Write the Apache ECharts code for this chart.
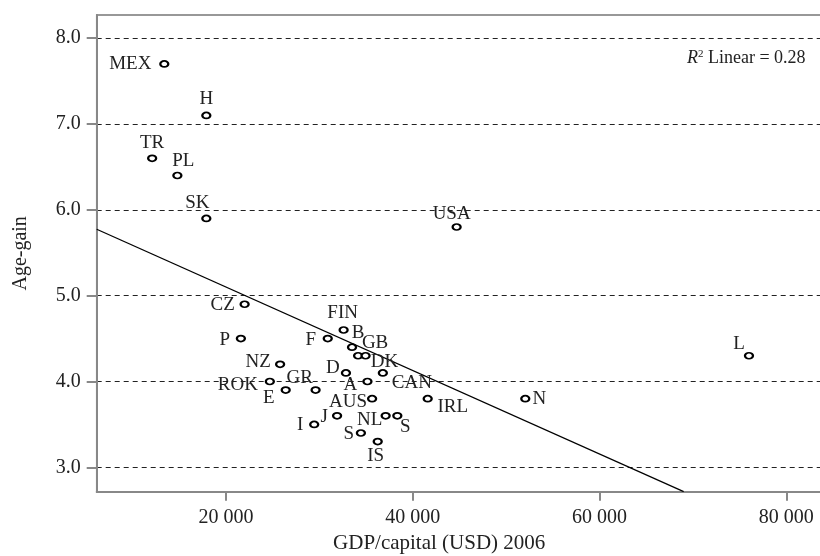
<!DOCTYPE html>
<html>
<head>
<meta charset="utf-8">
<script src="https://cdn.jsdelivr.net/npm/echarts@6/dist/echarts.min.js"></script>
<style>
html,body{margin:0;padding:0;background:#fff;}
#chart{width:820px;height:556px;}
</style>
</head>
<body>
<div id="chart"></div>
<script>
// ---- data ----
var countries = ['MEX','H','TR','PL','SK','USA','CZ','P','FIN','F','B','GB','DK','NZ','D','CAN','ROK','A','E','GR','AUS','IRL','N','L','I','J','NL','S','S','IS'];
var gdpPerCapita = [13400,17900,12100,14800,17900,44700,22000,21600,32600,30900,33500,34150,34950,25800,32850,36800,24700,35150,26400,29600,35650,41600,52050,76000,29450,31900,37100,38350,34450,36250];
var ageGain = [7.7,7.1,6.6,6.4,5.9,5.8,4.9,4.5,4.6,4.5,4.4,4.3,4.3,4.2,4.1,4.1,4.0,4.0,3.9,3.9,3.8,3.8,3.8,4.3,3.5,3.6,3.6,3.6,3.4,3.3];
var fitX = [6163, 69010];
var fitY = [5.774, 2.716];
var xTicks = [20000, 40000, 60000, 80000];
var yTicks = [3, 4, 5, 6, 7, 8];
var rSquared = '0.28';

// ---- layout (label offsets, px) ----
var labelOffsets = [[-34,0],[0,-16],[0,-15],[6,-14],[-9,-15],[-5,-13],[-22,1],[-16,1],[-1,-17],[-17,1],[6,-14],[17,-13],[19,6],[-22,-2],[-13,-5],[29,10],[-32,4],[-17,4],[-17,8],[-16,-12],[-24,3],[25,8],[14,0],[-10,-12],[-14,1],[-13,1],[-16,4],[8,11],[-12,1],[-2,14]];

var FONT = 'Liberation Serif';
var pts = countries.map(function(c, i){
  return {name: c, value: [gdpPerCapita[i], ageGain[i]]};
});

var chart = echarts.init(document.getElementById('chart'));
chart.setOption({
  animation: false,
  backgroundColor: '#fff',
  grid: {left: 96.7, top: 15, width: 727, height: 476.7, show: true, borderColor: '#777', borderWidth: 1.5,
         containLabel: false, outerBoundsMode: 'none'},
  xAxis: {
    type: 'value', min: 6163, max: 84000,
    name: 'GDP/capital (USD) 2006', nameLocation: 'middle', nameGap: 36,
    nameTextStyle: {fontFamily: FONT, fontSize: 21, color: '#222', padding: [0, 42, 0, 0]},
    axisLine: {lineStyle: {color: '#888', width: 2}},
    axisTick: {show: true, length: 9, customValues: xTicks, lineStyle: {color: '#888', width: 2}},
    axisLabel: {customValues: xTicks, margin: 16, fontFamily: FONT, fontSize: 20, color: '#222',
      formatter: function(v){ return String(v).replace(/(\d)(?=(\d{3})+$)/g, '$1 '); }},
    splitLine: {show: false}
  },
  yAxis: {
    type: 'value', min: 2.716, max: 8.27,
    name: 'Age-gain', nameLocation: 'middle', nameGap: 66, nameRotate: 90,
    nameTextStyle: {fontFamily: FONT, fontSize: 20, color: '#222'},
    axisLine: {show: true, lineStyle: {color: '#888', width: 2}},
    axisTick: {show: true, length: 10, customValues: yTicks, lineStyle: {color: '#888', width: 2}},
    axisLabel: {customValues: yTicks, margin: 16, fontFamily: FONT, fontSize: 20, color: '#222',
      formatter: function(v){ return v.toFixed(1); }},
    splitLine: {show: true, lineStyle: {color: '#222', type: [5, 4], width: 1}}
  },
  series: [
    {
      type: 'line',
      data: fitX.map(function(x, i){ return [x, fitY[i]]; }),
      symbol: 'none', silent: true,
      lineStyle: {color: '#000', width: 1.3},
      z: 1
    },
    {
      type: 'scatter',
      data: pts,
      symbol: 'circle', symbolSize: [8, 6],
      itemStyle: {color: '#fff', borderColor: '#000', borderWidth: 2, opacity: 1},
      label: {show: true, position: 'inside', formatter: '{b}', fontFamily: FONT, fontSize: 19, color: '#222'},
      labelLayout: function(params){
        var o = labelOffsets[params.dataIndex];
        return {dx: o[0], dy: o[1], hideOverlap: false};
      },
      z: 3
    }
  ],
  graphic: [{
    type: 'text', left: 687, top: 49,
    style: {
      text: '{r|R}{s|2} Linear = ' + rSquared,
      fontFamily: FONT, fontSize: 18, fill: '#222',
      rich: {
        r: {fontFamily: FONT, fontSize: 18, fontStyle: 'italic', fill: '#222'},
        s: {fontFamily: FONT, fontSize: 11, fill: '#222', verticalAlign: 'top', padding: [0, 0, 8, 0]}
      }
    }
  }]
});
</script>
</body>
</html>
